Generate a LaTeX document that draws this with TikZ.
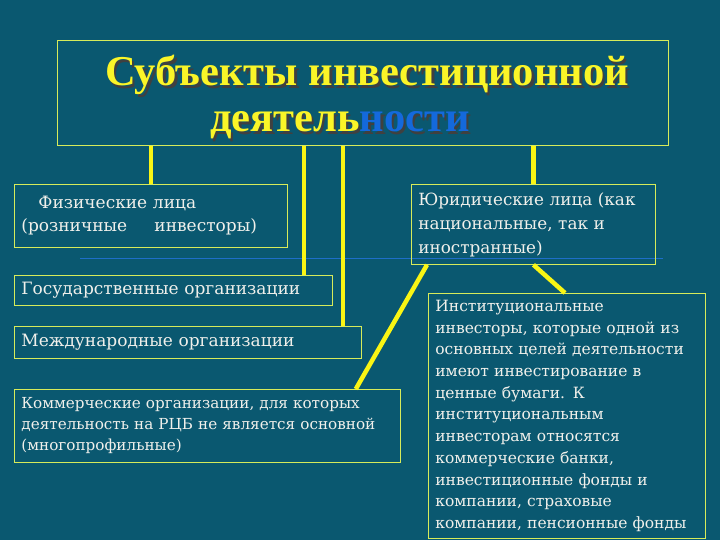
\documentclass[tikz,border=0pt]{standalone}
\usepackage{fontspec}
\setmainfont{DejaVu Serif}
\newfontfamily\titlefont{Liberation Serif}
\usetikzlibrary{positioning}
\definecolor{bgteal}{RGB}{10,88,112}
\definecolor{linkyellow}{RGB}{250,245,20}
\definecolor{edgegreen}{RGB}{215,235,90}
\definecolor{textwhite}{RGB}{240,240,235}
\definecolor{titleyellow}{RGB}{250,245,40}
\definecolor{titleblue}{RGB}{20,105,220}
\definecolor{rulerblue}{RGB}{30,110,200}
\newcommand{\shtext}[2]{\rlap{\color{black!75}\hspace{2.5pt}\raisebox{-2.5pt}{#2}}\textcolor{#1}{#2}}

\begin{document}
\begin{tikzpicture}[x=1pt, y=-1pt,
  every node/.style={font=\fontsize{17}{23}\selectfont, text=textwhite},
  box/.style={draw=edgegreen, line width=0.8pt, anchor=north west, align=left, inner xsep=7pt, inner ysep=0pt},
  link/.style={draw=linkyellow, line width=4.5pt},
  headline/.style={font=\titlefont\bfseries\fontsize{42.5}{42.5}\selectfont, inner sep=0pt, anchor=base west}]

  \fill[bgteal] (0,0) rectangle (720,540);
  \useasboundingbox (0,0) rectangle (720,540);

  % title
  \node[draw=edgegreen, line width=0.8pt, minimum width=611pt, minimum height=105pt,
        anchor=north west, inner sep=0pt] (title) at (57,40) {};
  \node[headline] (head1) at (105,86) {\shtext{titleyellow}{Субъекты инвестиционной}};
  \node[headline] (head2) at (210,132) {\shtext{titleyellow}{деятель}\shtext{titleblue}{ности}};

  \draw[rulerblue, line width=0.8pt] (80,258) -- (663,258);

  % left column
  \node[box, text width=259pt, minimum height=63pt] (fiz) at (14,184)
    {\hspace*{1em}Физические лица\\(розничные\hspace{1.6em}инвесторы)};
  \node[box, text width=304pt, minimum height=30pt] (gos) at (14,275) {Государственные организации};
  \node[box, text width=333pt, minimum height=32pt] (mezh) at (14,326) {Международные организации};
  \node[box, text width=372pt, minimum height=73pt, font=\fontsize{15.2}{21}\selectfont] (kom) at (14,389)
    {Коммерческие организации, для которых\\деятельность на РЦБ не является основной\\(многопрофильные)};

  % right column
  \node[box, text width=230pt, minimum height=80pt, font=\fontsize{16.8}{24}\selectfont] (yur) at (411,184)
    {Юридические лица (как\\национальные, так и\\иностранные)};
  \node[box, text width=263pt, minimum height=245pt, font=\fontsize{15.5}{21.7}\selectfont] (inst) at (428,293)
    {Институциональные\\инвесторы, которые одной из\\основных целей деятельности\\имеют инвестирование в\\ценные бумаги. К\\институциональным\\инвесторам относятся\\коммерческие банки,\\инвестиционные фонды и\\компании, страховые\\компании, пенсионные фонды};

  % connectors
  \coordinate (gosdrop) at ([xshift=-29pt]gos.north east);
  \coordinate (mezhdrop) at ([xshift=-19pt]mezh.north east);
  \draw[link] (title.south -| fiz.north) -- (fiz.north);
  \draw[link] (title.south -| gosdrop) -- (gosdrop);
  \draw[link] (title.south -| mezhdrop) -- (mezhdrop);
  \draw[link] (title.south -| yur.north) -- (yur.north);
  \draw[link] ([xshift=16pt]yur.south west) -- ([xshift=-45pt]kom.north east);
  \draw[link] (yur.south) -- ([xshift=137pt]inst.north west);

\end{tikzpicture}
\end{document}
